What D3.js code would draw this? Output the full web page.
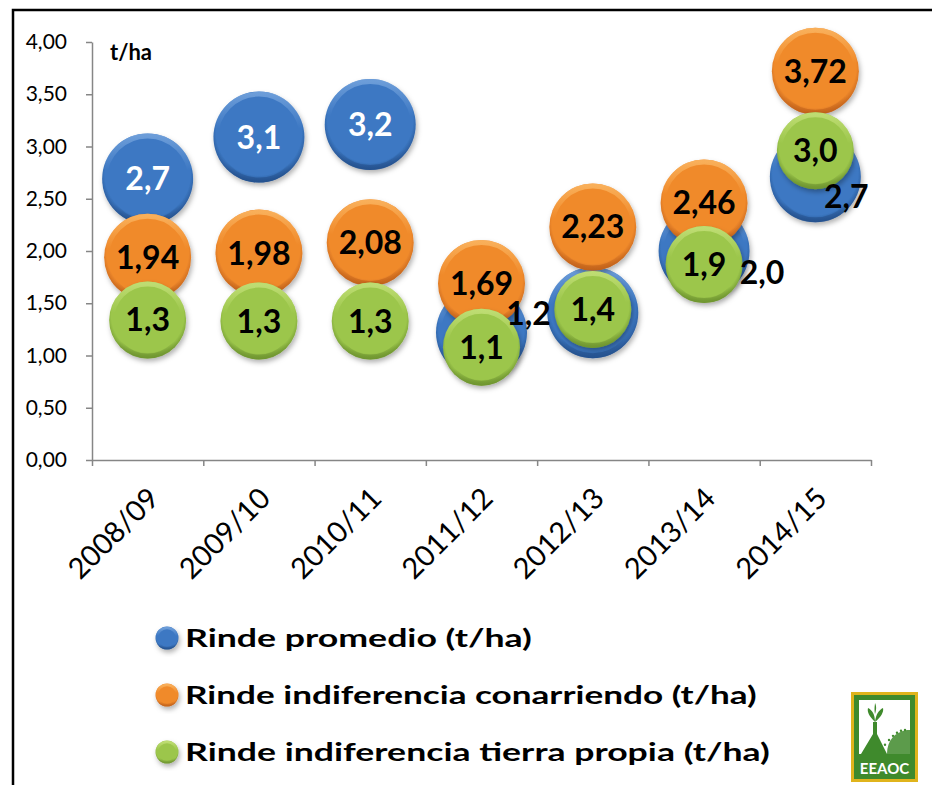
<!DOCTYPE html>
<html>
<head>
<meta charset="utf-8">
<script src="https://cdn.jsdelivr.net/npm/d3@7"></script>
<style>
    body { margin: 0; background: #fff; }
    svg { display: block; font-family: Lato, 'Liberation Sans', sans-serif; }
</style>
</head>
<body>
<div id="container"></div>
<script>
// data //

const categories = ['2008/09', '2009/10', '2010/11', '2011/12', '2012/13', '2013/14', '2014/15']
const rindePromedio = [2.69, 3.09, 3.21, 1.22, 1.41, 2.0, 2.71]
const rindeConarriendo = [1.94, 1.98, 2.08, 1.69, 2.23, 2.46, 3.72]
const rindeTierraPropia = [1.34, 1.33, 1.33, 1.08, 1.44, 1.87, 2.96]
const yTicks = [0, 0.5, 1, 1.5, 2, 2.5, 3, 3.5, 4]
const seriesNames = [
    'Rinde promedio (t/ha)',
    'Rinde indiferencia conarriendo (t/ha)',
    'Rinde indiferencia tierra propia (t/ha)'
]

// end data //

const width = 932
const height = 785
const margin = { left: 92, right: 61, top: 42, bottom: 325 }

const series = [
    { name: seriesNames[0], values: rindePromedio, decimals: 1, r: 45.5,
      colors: ['#78a6de', '#3c78c3', '#24508c'] },
    { name: seriesNames[1], values: rindeConarriendo, decimals: 2, r: 43.5,
      colors: ['#fbb865', '#f08a2c', '#c0601a'] },
    { name: seriesNames[2], values: rindeTierraPropia, decimals: 1, r: 38.5,
      colors: ['#c6e27c', '#9cc64b', '#6d932f'] }
]

// label placement of the blue series: center (white), offset (black), or hidden
const bluePlacement = ['center', 'center', 'center', 'offset', 'none', 'offset', 'offset']
const blueOffset = [null, null, null, [47, -19], null, [58, 21], [31, 20]]
// legend text widths in the picture
const legendWidths = [347, 572, 585]

const fmt = (v, d) => v.toFixed(d).replace('.', ',')

const svg = d3.select('#container')
    .append('svg')
    .attr('width', width)
    .attr('height', height)

const defs = svg.append('defs')

series.forEach((s, i) => {
    const g = defs.append('radialGradient')
        .attr('id', 'bubble' + i)
        .attr('cx', '50%').attr('cy', '45%').attr('r', '56%')
    g.append('stop').attr('offset', '0%').attr('stop-color', s.colors[1])
    g.append('stop').attr('offset', '84%').attr('stop-color', s.colors[1])
    g.append('stop').attr('offset', '100%').attr('stop-color', s.colors[2])

    const rim = defs.append('linearGradient')
        .attr('id', 'rim' + i)
        .attr('x1', 0).attr('y1', 0).attr('x2', 0).attr('y2', 1)
    rim.append('stop').attr('offset', '0%').attr('stop-color', s.colors[0]).attr('stop-opacity', 0.8)
    rim.append('stop').attr('offset', '40%').attr('stop-color', s.colors[0]).attr('stop-opacity', 0)
    rim.append('stop').attr('offset', '80%').attr('stop-color', s.colors[2]).attr('stop-opacity', 0)
    rim.append('stop').attr('offset', '100%').attr('stop-color', s.colors[2]).attr('stop-opacity', 0.7)
})

const shadow = defs.append('filter')
    .attr('id', 'shadow')
    .attr('x', '-30%').attr('y', '-30%').attr('width', '160%').attr('height', '160%')
shadow.append('feDropShadow')
    .attr('dx', 1.5).attr('dy', 3)
    .attr('stdDeviation', 2.5)
    .attr('flood-color', '#000')
    .attr('flood-opacity', 0.3)

// frame
svg.append('path')
    .attr('d', `M13,${height} L13,10 L${width},10`)
    .attr('fill', 'none')
    .attr('stroke', '#000')
    .attr('stroke-width', 2.5)

const x = d3.scaleBand()
    .domain(categories)
    .range([margin.left, width - margin.right])

const xEdges = d3.scaleLinear()
    .domain([0, categories.length])
    .range([margin.left, width - margin.right])

const y = d3.scaleLinear()
    .domain([0, 4])
    .range([height - margin.bottom, margin.top])

const cxOf = (c) => x(c) + x.bandwidth() / 2

// y axis
const yAxis = svg.append('g')
    .attr('transform', `translate(${margin.left},0)`)
    .call(
        d3.axisLeft(y)
            .tickValues(yTicks)
            .tickFormat((d) => fmt(d, 2))
            .tickSize(6)
            .tickPadding(19)
            .tickSizeOuter(0)
    )
yAxis.selectAll('line, path').attr('stroke', '#868686').attr('stroke-width', 1.5)
yAxis.selectAll('text')
    .attr('fill', '#000')
    .style('font-size', '21px')
    .style('font-family', 'Lato, sans-serif')

// x axis, ticks between categories
const xAxis = svg.append('g')
    .attr('transform', `translate(0,${y(0)})`)
    .call(
        d3.axisBottom(xEdges)
            .tickValues(d3.range(categories.length + 1))
            .tickFormat('')
            .tickSize(6)
            .tickSizeOuter(0)
    )
xAxis.selectAll('line, path').attr('stroke', '#868686').attr('stroke-width', 1.5)

svg.append('g')
    .selectAll('text')
    .data(categories)
    .join('text')
    .attr('transform', (d) => `translate(${cxOf(d) + 6},${y(0) + 33}) rotate(-45)`)
    .attr('text-anchor', 'end')
    .attr('dy', '0.35em')
    .style('font-size', '29px')
    .text((d) => d)

// unit label
svg.append('text')
    .attr('x', 110)
    .attr('y', 60)
    .style('font-size', '22px')
    .style('font-weight', 'bold')
    .text('t/ha')

// bubbles
series.forEach((s, i) => {
    const g = svg.append('g')
    const pts = categories.map((c, j) => ({ c, v: s.values[j] }))
    g.selectAll('circle.body')
        .data(pts)
        .join('circle')
        .attr('class', 'body')
        .attr('cx', (d) => cxOf(d.c))
        .attr('cy', (d) => y(d.v))
        .attr('r', s.r)
        .attr('fill', `url(#bubble${i})`)
        .attr('filter', 'url(#shadow)')
    g.selectAll('circle.rim')
        .data(pts)
        .join('circle')
        .attr('class', 'rim')
        .attr('cx', (d) => cxOf(d.c))
        .attr('cy', (d) => y(d.v))
        .attr('r', s.r - 2.5)
        .attr('fill', 'none')
        .attr('stroke', `url(#rim${i})`)
        .attr('stroke-width', 5)
})

// data labels
const labels = svg.append('g')
    .style('font-weight', 'bold')
    .style('font-size', '32px')
    .attr('text-anchor', 'middle')

series.forEach((s, i) => {
    categories.forEach((c, j) => {
        const cx = cxOf(c)
        const cy = y(s.values[j])
        const txt = fmt(s.values[j], s.decimals)
        if (i === 0) {
            if (bluePlacement[j] === 'center') {
                labels.append('text')
                    .attr('x', cx)
                    .attr('y', cy)
                    .attr('dy', '0.36em')
                    .attr('fill', '#fff')
                    .text(txt)
            } else if (bluePlacement[j] === 'offset') {
                labels.append('text')
                    .attr('x', cx + blueOffset[j][0])
                    .attr('y', cy + blueOffset[j][1])
                    .attr('dy', '0.36em')
                    .attr('fill', '#000')
                    .text(txt)
            }
        } else {
            labels.append('text')
                .attr('x', cx)
                .attr('y', cy)
                .attr('dy', '0.36em')
                .attr('fill', '#000')
                .text(txt)
        }
    })
})

// legend
const legend = svg.append('g')
series.forEach((s, i) => {
    const ly = 638 + i * 57
    legend.append('circle')
        .attr('cx', 167)
        .attr('cy', ly)
        .attr('r', 11.5)
        .attr('fill', `url(#bubble${i})`)
        .attr('filter', 'url(#shadow)')
    legend.append('circle')
        .attr('cx', 167)
        .attr('cy', ly)
        .attr('r', 10)
        .attr('fill', 'none')
        .attr('stroke', `url(#rim${i})`)
        .attr('stroke-width', 2.5)
    const t = legend.append('text')
        .attr('x', 0)
        .attr('y', 0)
        .attr('dy', '0.36em')
        .style('font-size', '25px')
        .style('font-weight', 'bold')
        .text(s.name)
    // the legend text in the picture is wider than the font, stretch it
    const natural = t.node().getComputedTextLength()
    t.attr('transform', `translate(185,${ly}) scale(${legendWidths[i] / natural},1)`)
})

// EEAOC logo
const logo = svg.append('g').attr('transform', 'translate(851,692)')
logo.append('rect').attr('width', 67).attr('height', 90).attr('fill', '#e0b41c')
logo.append('rect').attr('x', 3).attr('y', 3).attr('width', 61).attr('height', 84).attr('fill', '#3f8a2c')
logo.append('rect').attr('x', 8).attr('y', 8).attr('width', 51).attr('height', 54).attr('fill', '#fff')
logo.append('path')
    .attr('d', 'M22,30 L22,42 L10,62 L36,62 L26,42 L26,30 Z')
    .attr('fill', '#3f8a2c')
logo.append('path')
    .attr('d', 'M24,30 C18,24 16,20 17,16 C21,18 24,22 24,30 C25,22 28,18 32,16 C33,20 30,25 24,30 M24,22 C23,16 24,13 24,11 C25,13 26,16 24,22')
    .attr('fill', '#3f8a2c')
logo.append('path')
    .attr('d', 'M36,62 C36,48 44,40 56,38 L59,38 L59,62 Z')
    .attr('fill', '#3f8a2c')
    .attr('opacity', 0.85)
logo.selectAll('circle.dot')
    .data(d3.range(7))
    .join('circle')
    .attr('class', 'dot')
    .attr('cx', (d) => 30 + d * 4)
    .attr('cy', (d) => 58 - Math.sin(d / 6 * Math.PI / 2) * 20)
    .attr('r', 1.2)
    .attr('fill', '#3f8a2c')
logo.append('text')
    .attr('x', 33.5)
    .attr('y', 82)
    .attr('text-anchor', 'middle')
    .attr('fill', '#fff')
    .style('font-size', '15px')
    .style('font-weight', 'bold')
    .text('EEAOC')
</script>
</body>
</html>
